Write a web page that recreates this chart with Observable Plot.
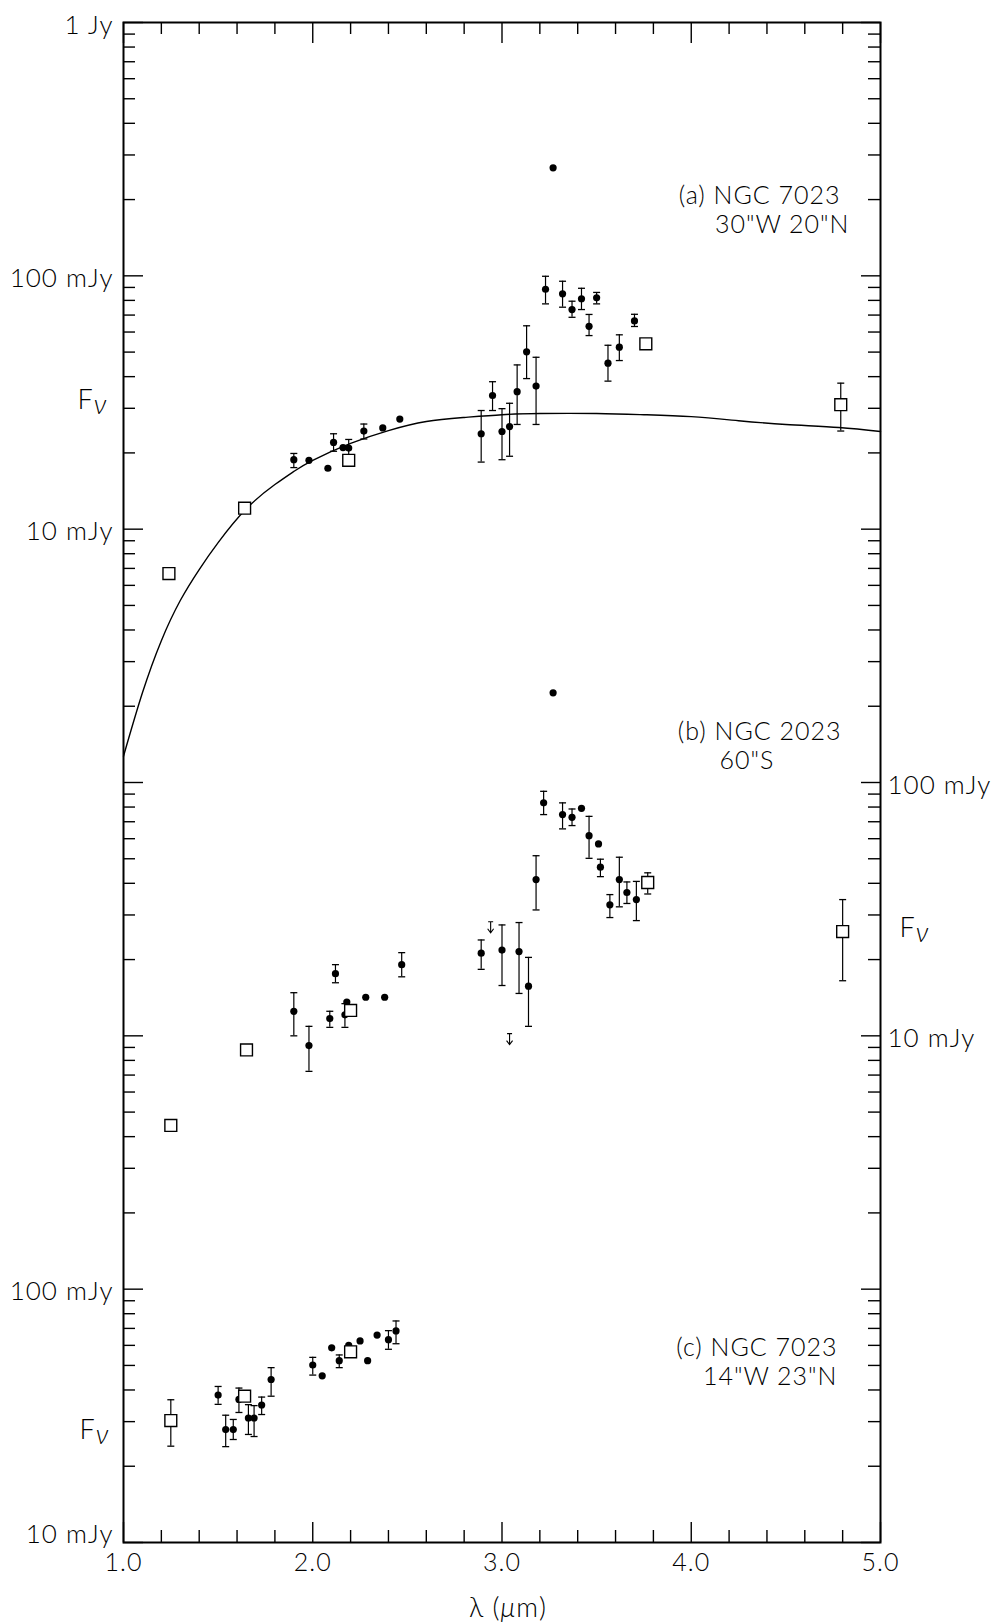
<!DOCTYPE html>
<html><head><meta charset="utf-8">
<script src="https://cdn.jsdelivr.net/npm/d3@7"></script>
<script src="https://cdn.jsdelivr.net/npm/@observablehq/plot@0.6"></script>
<style>
html,body{margin:0;padding:0;background:#fff;}
#chart svg text{letter-spacing:1px;font-weight:300;}
</style>
</head><body><div id="chart"></div>
<script>
// ---- data: [wavelength (µm), flux (mJy), low, high] ----
const panelFactor = {a: 1, b: 0.01, c: 0.0001};

const aDots = [
  [1.90, 18.8, 17.5, 19.9], [1.98, 18.7], [2.08, 17.4], [2.11, 22.0, 20.3, 23.8],
  [2.16, 21.0], [2.19, 20.9, 19.5, 22.6], [2.27, 24.4, 22.7, 26.0], [2.37, 25.1],
  [2.46, 27.2], [2.89, 23.8, 18.4, 29.4], [2.95, 33.7, 29.4, 38.2], [3.00, 24.3, 18.8, 29.9],
  [3.04, 25.4, 19.4, 31.4], [3.08, 34.9, 25.9, 44.5], [3.13, 50.1, 39.3, 63.5],
  [3.18, 36.7, 25.9, 47.7], [3.23, 88.5, 77.5, 99.6], [3.27, 267], [3.32, 84.9, 75.2, 95.2],
  [3.37, 73.6, 68.6, 79.4], [3.42, 81.2, 73.6, 89.3], [3.46, 63.2, 58.1, 70.4],
  [3.50, 81.9, 77.5, 86.0], [3.56, 45.2, 38.4, 53.2], [3.62, 52.3, 46.3, 58.5],
  [3.70, 66.4, 63.1, 70.5]
];
const aSquares = [[1.24, 6.68], [1.64, 12.1], [2.19, 18.7], [3.76, 53.9], [4.79, 31.0, 24.4, 37.7]];
const aCurveLambda = [1.0, 1.1, 1.2, 1.3, 1.4, 1.5, 1.65, 1.8, 1.9, 2.0, 2.2, 2.4, 2.6, 2.8, 3.0, 3.2, 3.5, 3.75, 4.0, 4.25, 4.5, 4.78, 5.0];
const aCurveFlux = [1.27, 2.26, 3.63, 5.23, 6.93, 8.85, 12.06, 15.0, 16.9, 18.7, 21.8, 24.5, 26.6, 27.6, 28.3, 28.6, 28.6, 28.3, 27.8, 26.8, 25.9, 25.2, 24.3];

const bDots = [
  [1.90, 12.5, 10.0, 14.8], [1.98, 9.15, 7.24, 10.9], [2.09, 11.7, 10.8, 12.5],
  [2.12, 17.6, 16.2, 19.1], [2.17, 12.1, 10.8, 13.4], [2.18, 13.6], [2.28, 14.2],
  [2.38, 14.2], [2.47, 19.1, 17.1, 21.3], [2.89, 21.2, 18.3, 23.9], [3.00, 21.8, 15.8, 27.4],
  [3.09, 21.5, 14.7, 28.0], [3.14, 15.7, 10.9, 20.4], [3.18, 41.4, 31.4, 51.4],
  [3.22, 83.1, 74.7, 92.3], [3.27, 226], [3.32, 74.7, 65.6, 83.1], [3.37, 72.9, 67.6, 78.6],
  [3.42, 79.1], [3.46, 61.7, 50.2, 73.5], [3.51, 57.2], [3.52, 46.3, 42.5, 49.8],
  [3.57, 32.9, 29.3, 36.1], [3.62, 41.4, 32.3, 50.7], [3.66, 36.8, 33.3, 40.5],
  [3.71, 34.5, 28.5, 40.7]
];
const bSquares = [[1.25, 4.43], [1.65, 8.80], [2.20, 12.6], [3.77, 40.3, 36.3, 44.0], [4.80, 25.8, 16.5, 34.5]];
const bUpperLimits = [[2.94, 28.2], [3.04, 10.2]];

const cDots = [
  [1.50, 38.2, 35.1, 41.3], [1.54, 27.9, 23.9, 31.8], [1.58, 27.9, 25.5, 30.6],
  [1.61, 36.7, 32.6, 40.7], [1.66, 31.0, 26.7, 35.0], [1.69, 31.0, 26.2, 34.7],
  [1.73, 34.9, 32.0, 37.5], [1.78, 44.0, 37.8, 49.0], [2.00, 50.2, 45.8, 53.8],
  [2.05, 45.5], [2.10, 58.7], [2.14, 52.2, 49.0, 55.0], [2.19, 60.0], [2.25, 62.5],
  [2.29, 52.2], [2.34, 65.9], [2.40, 63.2, 57.9, 68.6], [2.44, 68.4, 60.9, 74.9]
];
const cSquares = [[1.25, 30.3, 24.0, 36.6], [1.64, 37.8], [2.20, 56.6]];

// ---- axis ticks and labels ----
const xMajorTicks = [1, 2, 3, 4, 5];
const xMinorTicks = [1.2, 1.4, 1.6, 1.8, 2.2, 2.4, 2.6, 2.8, 3.2, 3.4, 3.6, 3.8, 4.2, 4.4, 4.6, 4.8];
const xTickLabels = ["1.0", "2.0", "3.0", "4.0", "5.0"];
const yDecades = [1e-3, 1e-2, 1e-1, 1, 10, 100, 1000];
const yMinorMultipliers = [2, 3, 4, 5, 6, 7, 8, 9];
const leftLabels = [{v: 1000, t: "1 Jy"}, {v: 100, t: "100 mJy"}, {v: 10, t: "10 mJy"}, {v: 0.01, t: "100 mJy"}];
const leftBottomLabel = [{v: 0.001, t: "10 mJy"}];
const rightLabels = [{v: 1, t: "100 mJy"}, {v: 0.1, t: "10 mJy"}];

// ---- build tables ----
function rows(panel, arr) {
  const f = panelFactor[panel];
  return arr.map(([x, v, lo, hi]) => ({x, y: v * f, lo: lo == null ? null : lo * f, hi: hi == null ? null : hi * f}));
}
const dots = [...rows("a", aDots), ...rows("b", bDots), ...rows("c", cDots)];
const squares = [...rows("a", aSquares), ...rows("b", bSquares), ...rows("c", cSquares)];
const limits = rows("b", bUpperLimits);
const errs = [...dots, ...squares].filter(d => d.lo != null);
const caps = errs.flatMap(d => [{x: d.x, y: d.lo}, {x: d.x, y: d.hi}]);
const curve = aCurveLambda.map((x, i) => ({x, y: aCurveFlux[i] * panelFactor.a}));
const yMinorTicks = yDecades.slice(0, -1).flatMap(d => yMinorMultipliers.map(k => d * k));

const W = 992, H = 1623;
const ML = 123, MR = 112, MT = 22, MB = 81;
const FW = W - ML - MR, FH = H - MT - MB;
const font = "Lato, 'Open Sans', sans-serif";
const capSymbol = {draw(ctx) { ctx.moveTo(-3.5, 0); ctx.lineTo(3.5, 0); }};
// upper-limit marker: short bar at the limit with a downward arrow
const limitSymbol = {draw(ctx) {
  ctx.moveTo(-2.5, 0); ctx.lineTo(2.5, 0);
  ctx.moveTo(0, 0); ctx.lineTo(0, 11);
  ctx.moveTo(-3, 7); ctx.lineTo(0, 11); ctx.lineTo(3, 7);
}};
const tw = 1.4;

const plot = Plot.plot({
  width: W, height: H,
  marginLeft: ML, marginRight: MR, marginTop: MT, marginBottom: MB,
  x: {domain: [1, 5], axis: null},
  y: {type: "log", domain: [1e-3, 1e3], axis: null},
  style: {fontFamily: font, background: "white", color: "black", overflow: "visible"},
  marks: [
    // x ticks (bottom and top, inward)
    Plot.ruleX(xMinorTicks, {x: d => d, insetTop: FH - 12, strokeWidth: tw}),
    Plot.ruleX(xMajorTicks, {x: d => d, insetTop: FH - 20, strokeWidth: tw}),
    Plot.ruleX(xMinorTicks, {x: d => d, insetBottom: FH - 12, strokeWidth: tw}),
    Plot.ruleX(xMajorTicks, {x: d => d, insetBottom: FH - 21, strokeWidth: tw}),
    // y ticks (left and right, inward)
    Plot.ruleY(yMinorTicks, {y: d => d, insetRight: FW - 12, strokeWidth: tw}),
    Plot.ruleY(yDecades, {y: d => d, insetRight: FW - 20, strokeWidth: tw}),
    Plot.ruleY(yMinorTicks, {y: d => d, insetLeft: FW - 12, strokeWidth: tw}),
    Plot.ruleY(yDecades, {y: d => d, insetLeft: FW - 19, strokeWidth: tw}),
    Plot.frame({stroke: "black", strokeWidth: 2}),
    // model curve (panel a)
    Plot.line(curve, {x: "x", y: "y", curve: "natural", stroke: "black", strokeWidth: 1.4}),
    // error bars
    Plot.ruleX(errs, {x: "x", y1: "lo", y2: "hi", stroke: "black", strokeWidth: 1.2}),
    Plot.dot(caps, {x: "x", y: "y", symbol: capSymbol, stroke: "black", fill: "none", strokeWidth: 1.3}),
    // upper limits
    Plot.dot(limits, {x: "x", y: "y", symbol: limitSymbol, stroke: "black", fill: "none", strokeWidth: 1.1}),
    // data
    Plot.dot(dots, {x: "x", y: "y", r: 3.6, fill: "black", stroke: "none"}),
    Plot.dot(squares, {x: "x", y: "y", symbol: "square", r: 6.7, fill: "white", stroke: "black", strokeWidth: 1.4}),
    // axis labels
    Plot.text(leftLabels, {y: "v", text: "t", frameAnchor: "left", dx: -10, dy: 3, textAnchor: "end", lineAnchor: "middle", fontSize: 26, fill: "black"}),
    Plot.text(leftBottomLabel, {y: "v", text: "t", frameAnchor: "left", dx: -10, dy: -8, textAnchor: "end", lineAnchor: "middle", fontSize: 26, fill: "black"}),
    Plot.text(rightLabels, {y: "v", text: "t", frameAnchor: "right", dx: 7, dy: 3, textAnchor: "start", lineAnchor: "middle", fontSize: 26, fill: "black"}),
    Plot.text(xMajorTicks, {x: d => d, text: (d, i) => xTickLabels[i], frameAnchor: "bottom", dy: 11, lineAnchor: "top", fontSize: 25, fill: "black"}),
    Plot.text(["λ (μm)"], {text: d => d, frameAnchor: "bottom", dx: 6, dy: 74, lineAnchor: "bottom", fontSize: 27, fill: "black"}),
    Plot.text(["Fν"], {text: d => d, frameAnchor: "top-left", dx: 77 - ML, dy: 408 - MT, textAnchor: "start", lineAnchor: "bottom", fontSize: 27, fill: "black"}),
    Plot.text(["Fν"], {text: d => d, frameAnchor: "top-left", dx: 79 - ML, dy: 1438 - MT, textAnchor: "start", lineAnchor: "bottom", fontSize: 27, fill: "black"}),
    Plot.text(["Fν"], {text: d => d, frameAnchor: "top-left", dx: 899 - ML, dy: 936 - MT, textAnchor: "start", lineAnchor: "bottom", fontSize: 27, fill: "black"}),
    // panel labels
    Plot.text(["(a) NGC 7023"], {text: d => d, frameAnchor: "top-left", dx: 840 - ML, dy: 203 - MT, textAnchor: "end", lineAnchor: "bottom", fontSize: 25, fill: "black"}),
    Plot.text(['30"W 20"N'], {text: d => d, frameAnchor: "top-left", dx: 849 - ML, dy: 232 - MT, textAnchor: "end", lineAnchor: "bottom", fontSize: 25, fill: "black"}),
    Plot.text(["(b) NGC 2023"], {text: d => d, frameAnchor: "top-left", dx: 841 - ML, dy: 739 - MT, textAnchor: "end", lineAnchor: "bottom", fontSize: 25, fill: "black"}),
    Plot.text(['60"S'], {text: d => d, frameAnchor: "top-left", dx: 719 - ML, dy: 768 - MT, textAnchor: "start", lineAnchor: "bottom", fontSize: 25, fill: "black"}),
    Plot.text(["(c) NGC 7023"], {text: d => d, frameAnchor: "top-left", dx: 837 - ML, dy: 1355 - MT, textAnchor: "end", lineAnchor: "bottom", fontSize: 25, fill: "black"}),
    Plot.text(['14"W 23"N'], {text: d => d, frameAnchor: "top-left", dx: 837 - ML, dy: 1384 - MT, textAnchor: "end", lineAnchor: "bottom", fontSize: 25, fill: "black"})
  ]
});

plot.querySelectorAll("text").forEach(t => {
  if (t.textContent === "Fν") t.innerHTML = 'F<tspan font-style="italic" dy="5">ν</tspan>';
  else if (t.textContent === "λ (μm)") t.innerHTML = 'λ (<tspan font-style="italic">μ</tspan>m)';
});
document.getElementById("chart").appendChild(plot);
</script>
</body></html>
